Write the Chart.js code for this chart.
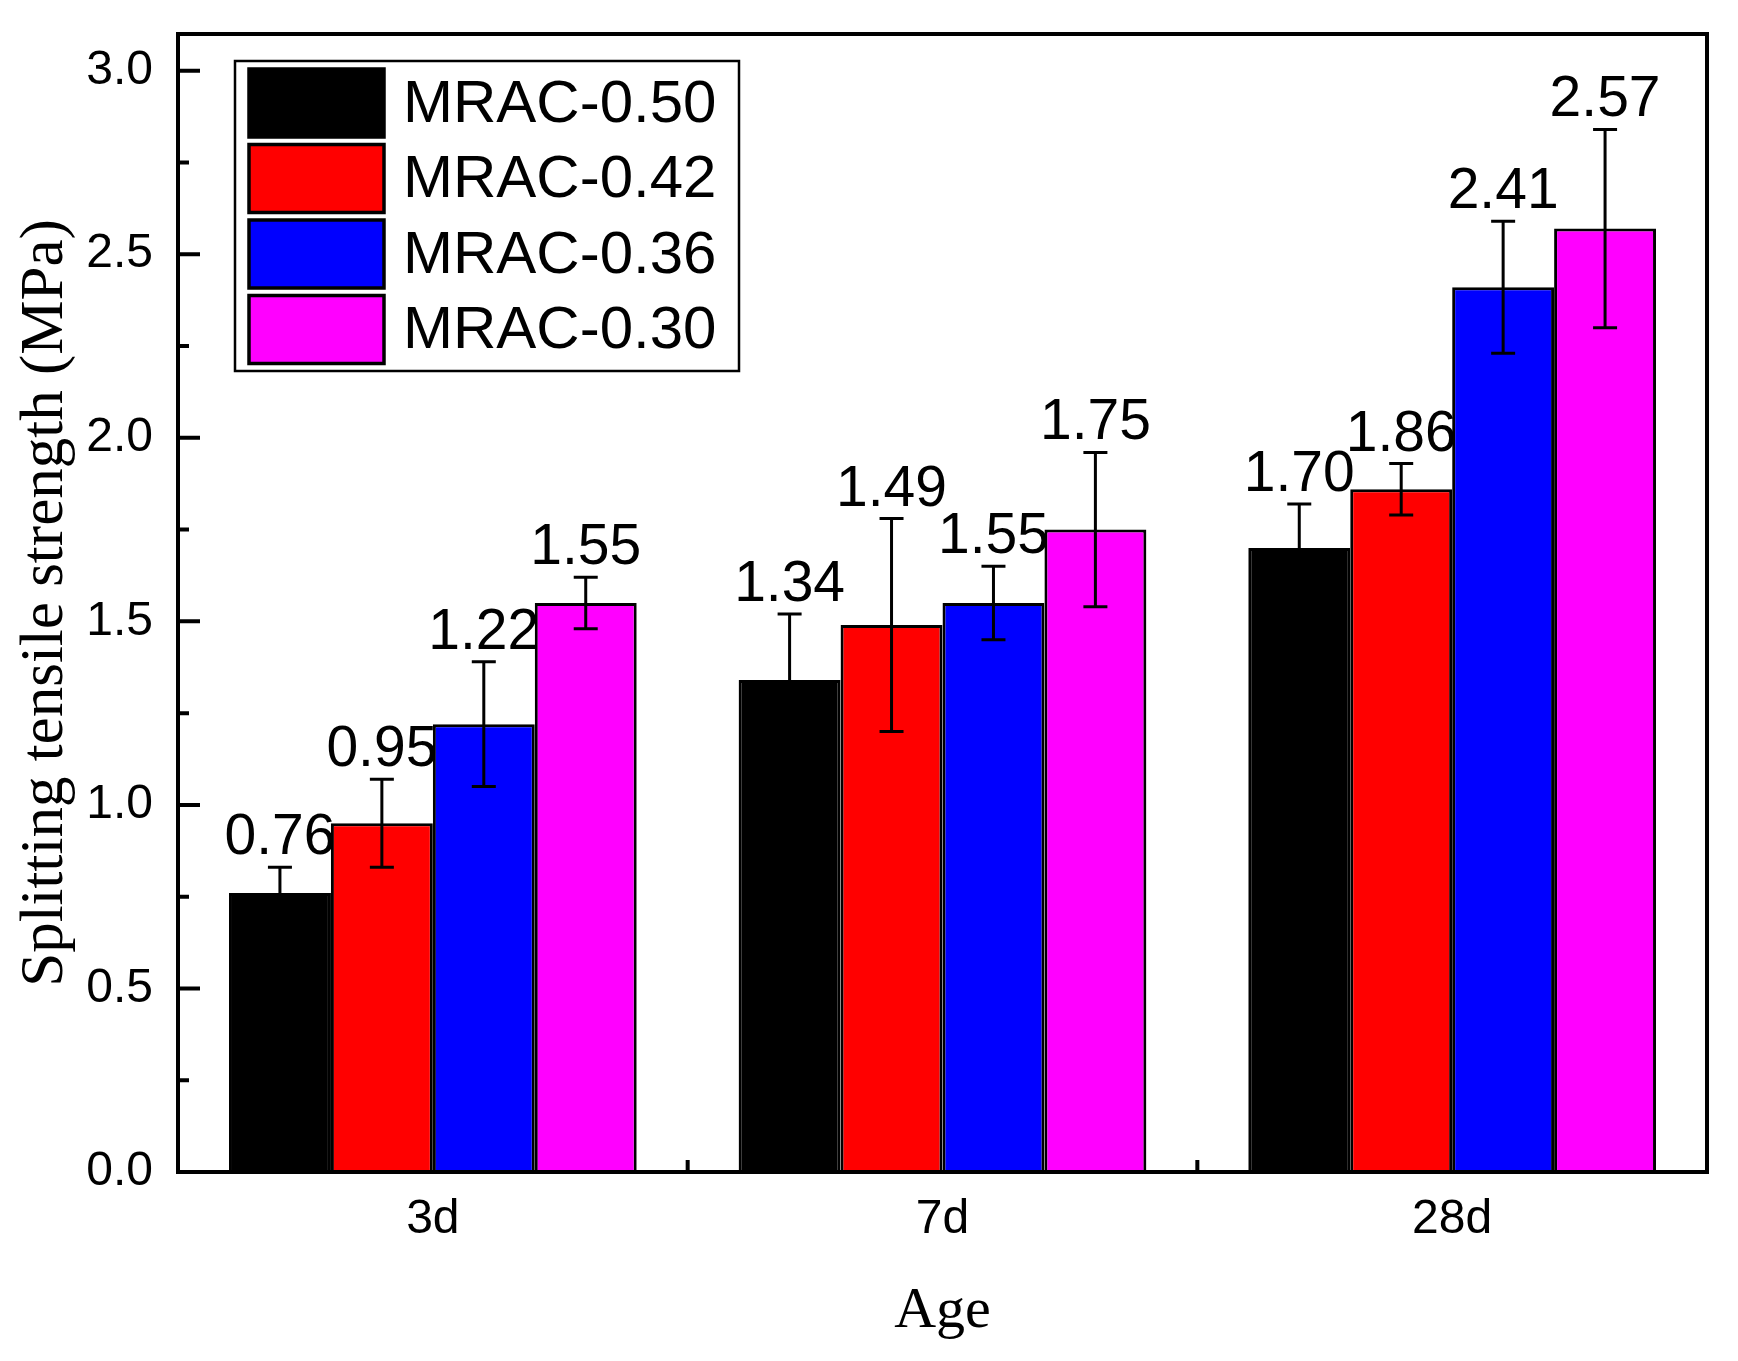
<!DOCTYPE html>
<html>
<head>
<meta charset="utf-8">
<title>Splitting tensile strength</title>
<script src="https://cdn.jsdelivr.net/npm/chart.js@4.4.1/dist/chart.umd.min.js"></script>
<style>
  html, body { margin: 0; padding: 0; background: #fff; }
  #chart { display: block; }
</style>
</head>
<body>
<canvas id="chart" width="1738" height="1361"></canvas>
<script>
const categories = ['3d', '7d', '28d'];
const seriesNames = ['MRAC-0.50', 'MRAC-0.42', 'MRAC-0.36', 'MRAC-0.30'];
const seriesColors = ['#000000', '#ff0000', '#0000ff', '#ff00ff'];

const mrac050 = [0.76, 1.34, 1.70];
const mrac042 = [0.95, 1.49, 1.86];
const mrac036 = [1.22, 1.55, 2.41];
const mrac030 = [1.55, 1.75, 2.57];

const err050 = [0.07, 0.18, 0.12];
const err042 = [0.12, 0.29, 0.07];
const err036 = [0.17, 0.10, 0.18];
const err030 = [0.07, 0.21, 0.27];

const yTicks = [0, 0.5, 1.0, 1.5, 2.0, 2.5, 3.0];

const SANS = '"Liberation Sans", Arial, sans-serif';
const SERIF = '"Liberation Serif", "Times New Roman", serif';

const seriesValues = [mrac050, mrac042, mrac036, mrac030];
const seriesErrors = [err050, err042, err036, err030];

// error bars + value labels on top of each bar
const errorBarPlugin = {
  id: 'errorBars',
  afterDatasetsDraw(chart) {
    const { ctx } = chart;
    const yScale = chart.scales.y;
    ctx.save();
    chart.data.datasets.forEach((ds, di) => {
      const meta = chart.getDatasetMeta(di);
      meta.data.forEach((bar, i) => {
        const v = ds.data[i];
        const e = ds.errors[i];
        const x = bar.x;
        const yTop = yScale.getPixelForValue(v + e);
        const yBot = yScale.getPixelForValue(v - e);
        ctx.strokeStyle = '#000';
        ctx.lineWidth = 3;
        ctx.beginPath();
        ctx.moveTo(x, yTop); ctx.lineTo(x, yBot);
        ctx.moveTo(x - 12, yTop); ctx.lineTo(x + 12, yTop);
        ctx.moveTo(x - 12, yBot); ctx.lineTo(x + 12, yBot);
        ctx.stroke();
      });
    });
    // labels after all error bars
    chart.data.datasets.forEach((ds, di) => {
      const meta = chart.getDatasetMeta(di);
      meta.data.forEach((bar, i) => {
        const yTop = yScale.getPixelForValue(ds.data[i] + ds.errors[i]);
        ctx.fillStyle = '#000';
        ctx.font = '57px ' + SANS;
        ctx.textAlign = 'center';
        ctx.textBaseline = 'alphabetic';
        ctx.fillText(ds.data[i].toFixed(2), bar.x, yTop - 13);
      });
    });
    ctx.restore();
  },
};

// frame, inward ticks, legend
const framePlugin = {
  id: 'frame',
  afterDraw(chart) {
    const { ctx, chartArea: a } = chart;
    const yScale = chart.scales.y;
    const xScale = chart.scales.x;
    ctx.save();
    ctx.strokeStyle = '#000';
    ctx.lineWidth = 4;
    ctx.strokeRect(a.left, a.top, a.right - a.left, a.bottom - a.top);

    ctx.beginPath();
    for (let k = 0; k <= 12; k++) {
      const v = k * 0.25;
      const y = yScale.getPixelForValue(v);
      const len = k % 2 === 0 ? 22 : 11;
      ctx.moveTo(a.left, y); ctx.lineTo(a.left + len, y);
    }
    for (let i = 0; i < categories.length - 1; i++) {
      const x = (xScale.getPixelForTick(i) + xScale.getPixelForTick(i + 1)) / 2;
      ctx.moveTo(x, a.bottom); ctx.lineTo(x, a.bottom - 12);
    }
    ctx.stroke();

    // legend
    const lx = a.left + 57, ly = a.top + 27;
    ctx.lineWidth = 2.5;
    ctx.strokeRect(lx, ly, 504, 310);
    chart.data.datasets.forEach((ds, i) => {
      const ry = ly + 8 + i * 75.5;
      ctx.fillStyle = ds.backgroundColor;
      ctx.fillRect(lx + 14, ry, 135, 68);
      ctx.lineWidth = 3.5;
      ctx.strokeStyle = '#000';
      ctx.strokeRect(lx + 14, ry, 135, 68);
      ctx.fillStyle = '#000';
      ctx.font = '60px ' + SANS;
      ctx.textAlign = 'left';
      ctx.textBaseline = 'middle';
      ctx.fillText(ds.label, lx + 168, ry + 36);
    });
    ctx.restore();
  },
};

const datasets = seriesNames.map((name, i) => ({
  label: name,
  data: seriesValues[i],
  errors: seriesErrors[i],
  backgroundColor: seriesColors[i],
  borderColor: '#000',
  borderWidth: 3,
  borderSkipped: 'bottom',
  categoryPercentage: 0.8,
  barPercentage: 1.0,
}));

new Chart(document.getElementById('chart'), {
  type: 'bar',
  data: { labels: categories, datasets },
  options: {
    responsive: false,
    animation: false,
    devicePixelRatio: 1,
    layout: { padding: { top: 34, right: 31, left: 0, bottom: 0 } },
    plugins: {
      legend: { display: false },
      tooltip: { enabled: false },
    },
    scales: {
      x: {
        grid: { display: false, drawTicks: false },
        border: { display: false },
        ticks: { color: '#000', font: { family: SANS, size: 48 }, padding: 19 },
        title: {
          display: true,
          text: 'Age',
          color: '#000',
          font: { family: SERIF, size: 58 },
          padding: { top: 0, bottom: 14 },
        },
        afterFit(scale) {
          scale.height = 189;
          scale.paddingLeft = 0;
          scale.paddingRight = 0;
        },
      },
      y: {
        min: 0,
        max: 3.1,
        afterBuildTicks(scale) { scale.ticks = yTicks.map((v) => ({ value: v })); },
        grid: { display: false, drawTicks: false },
        border: { display: false },
        ticks: {
          color: '#000',
          font: { family: SANS, size: 48 },
          padding: 25,
          callback: (v) => Number(v).toFixed(1),
        },
        title: {
          display: true,
          text: 'Splitting tensile strength (MPa)',
          color: '#000',
          font: { family: SERIF, size: 61 },
          padding: { top: 9, bottom: 0 },
        },
        afterFit(scale) {
          scale.width = 178;
          scale.paddingTop = 0;
          scale.paddingBottom = 0;
        },
      },
    },
  },
  plugins: [errorBarPlugin, framePlugin],
});
</script>
</body>
</html>
